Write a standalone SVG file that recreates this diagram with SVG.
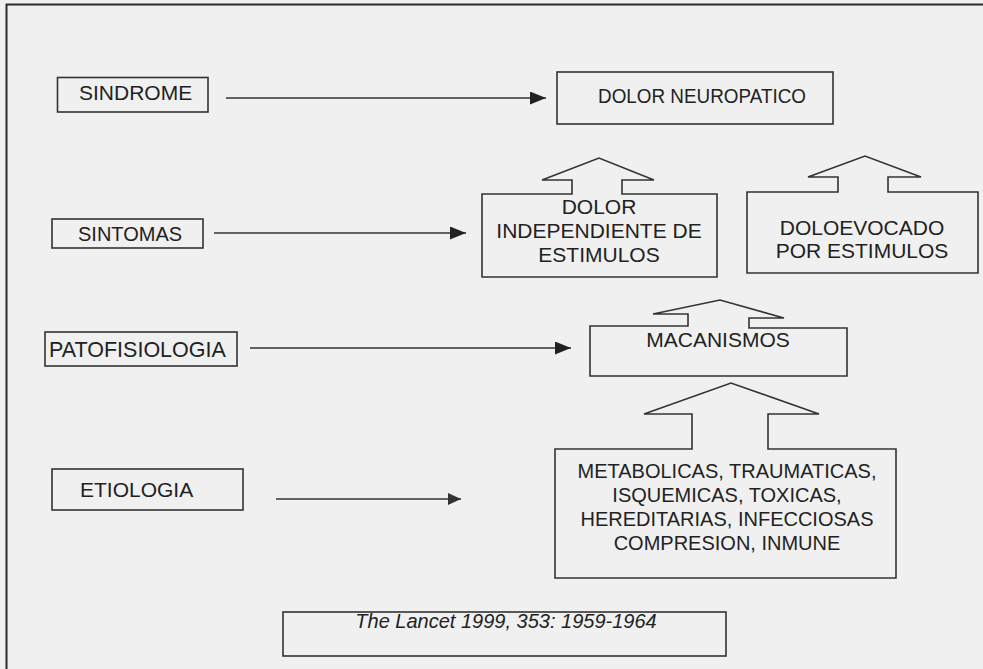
<svg xmlns="http://www.w3.org/2000/svg" width="983" height="669" viewBox="0 0 983 669">
<defs>
<style>
.bx{fill:none;stroke:#333;stroke-width:1.6}
.ln{fill:none;stroke:#333;stroke-width:1.6}
.t{font-family:"Liberation Sans",Arial,sans-serif;font-size:21px;fill:#222}
.m{text-anchor:middle}
.it{font-style:italic;font-size:20px}
</style>
<marker id="ah" markerUnits="userSpaceOnUse" markerWidth="17" markerHeight="13" refX="16" refY="6.5" orient="auto">
<path d="M0,0 L16,6.5 L0,13 Z" fill="#222"/>
</marker>
<marker id="ah2" markerUnits="userSpaceOnUse" markerWidth="14" markerHeight="12" refX="13" refY="6" orient="auto">
<path d="M0,0 L13,6 L0,12 Z" fill="#333"/>
</marker>
</defs>
<rect width="983" height="669" fill="#f0f0f0"/>
<path d="M6.5,669 V4.5 H983" fill="none" stroke="#2a2a2a" stroke-width="2"/>

<g id="sindrome"><rect class="bx" x="57.5" y="77.5" width="150.5" height="34.5"/><text class="t" x="79" y="100">SINDROME</text></g>
<g id="dolor-neuropatico"><rect class="bx" x="557" y="72" width="276" height="52"/><text class="t" x="598" y="103" style="font-size:20px" textLength="208" lengthAdjust="spacingAndGlyphs">DOLOR NEUROPATICO</text></g>

<g id="sintomas"><rect class="bx" x="52" y="219" width="151" height="29"/><text class="t" x="78" y="241" style="font-size:20px">SINTOMAS</text></g>
<g id="dolor-independiente"><path class="bx" d="M572,194 V180 H542 L599,158 L654,180 H622 V194 H717 V277 H482 V194 Z"/>
<text class="t m" x="599" y="214">DOLOR</text><text class="t m" x="599" y="238">INDEPENDIENTE DE</text><text class="t m" x="599" y="262">ESTIMULOS</text></g>
<g id="doloevocado"><path class="bx" d="M838,192 V177 H808 L865,156 L921,177 H888 V192 H978 V273 H747 V192 Z"/>
<text class="t m" x="862" y="235">DOLOEVOCADO</text><text class="t m" x="862" y="258">POR ESTIMULOS</text></g>

<g id="patofisiologia"><rect class="bx" x="45" y="332" width="192" height="34"/><text class="t" x="49" y="357" style="font-size:21.5px">PATOFISIOLOGIA</text></g>
<g id="macanismos"><path class="bx" d="M688,326 V314 H653 L720,300 L784,318 H749 V328 H847 V376 H590 V326 Z"/>
<text class="t m" x="718" y="347">MACANISMOS</text></g>

<g id="etiologia"><rect class="bx" x="52" y="469" width="191" height="41"/><text class="t" x="80" y="497">ETIOLOGIA</text></g>
<g id="causas"><path class="bx" d="M692,449 V414 H644 L731,383 L819,414 H768 V449 H896 V578 H555 V449 Z"/>
<text class="t m" x="727" y="478" style="font-size:20px">METABOLICAS, TRAUMATICAS,</text>
<text class="t m" x="727" y="502" style="font-size:20px">ISQUEMICAS, TOXICAS,</text>
<text class="t m" x="727" y="526" style="font-size:20px">HEREDITARIAS, INFECCIOSAS</text>
<text class="t m" x="727" y="550" style="font-size:20px">COMPRESION, INMUNE</text></g>

<g id="referencia"><rect class="bx" x="283" y="612" width="443" height="44"/><text class="t m it" x="506" y="628">The Lancet 1999, 353: 1959-1964</text></g>

<g id="connectors">
<line class="ln" x1="226" y1="98" x2="546" y2="98" marker-end="url(#ah)"/>
<line class="ln" x1="214" y1="233" x2="466" y2="233" marker-end="url(#ah)"/>
<line class="ln" x1="250" y1="348" x2="571" y2="348" marker-end="url(#ah)"/>
<line class="ln" x1="276" y1="499" x2="461" y2="499" marker-end="url(#ah2)"/>
</g>
</svg>
